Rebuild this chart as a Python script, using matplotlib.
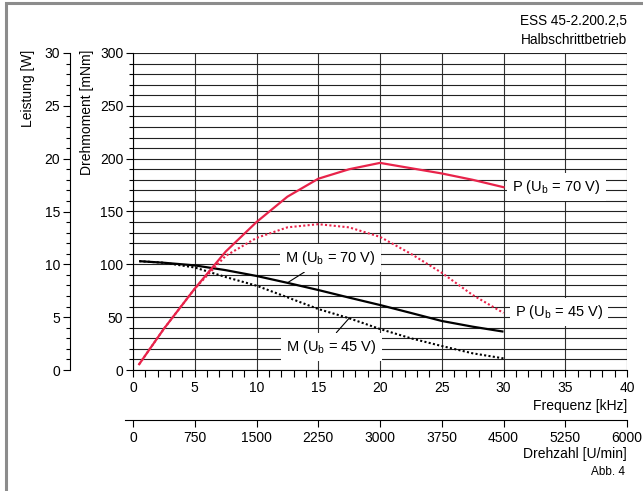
import matplotlib
matplotlib.use('Agg')
import matplotlib.pyplot as plt
from matplotlib.ticker import MultipleLocator
from matplotlib.patches import Rectangle

plt.rcParams['font.family'] = ['Liberation Sans', 'DejaVu Sans']
plt.rcParams['mathtext.fontset'] = 'custom'
plt.rcParams['mathtext.rm'] = 'Liberation Sans'
plt.rcParams['font.size'] = 10

# Frequenz [kHz]
freq = [0.5, 2.5, 5, 7.5, 10, 12.5, 15, 17.5, 20, 22.5, 25, 27.5, 30]
# Leistung [W]
p_70 = [0.55, 3.9, 7.7, 11.2, 14.0, 16.4, 18.1, 19.0, 19.6, 19.1, 18.6, 18.0, 17.3]
p_45 = [0.55, 3.9, 7.7, 10.8, 12.5, 13.5, 13.8, 13.5, 12.6, 11.0, 9.2, 7.1, 5.4]
# Drehmoment [mNm]
m_70 = [103, 101.5, 99, 94.5, 89, 82.5, 75.7, 68.5, 61.5, 54, 46.4, 41, 36.3]
m_45 = [103, 101.5, 97, 88, 79.8, 68.8, 57.7, 49, 38.8, 30, 22.7, 15.8, 11]

freq_ticks = list(range(0, 41, 5))
drehzahl_ticks = list(range(0, 6001, 750))

red = '#e8234a'
W, H = 643, 491

fig = plt.figure(figsize=(W / 100, H / 100), dpi=100)
ax = fig.add_axes([133 / W, 121 / H, 494 / W, 317 / H])

# Drehmoment axis + grid
ax.set_xlim(0, 40)
ax.set_ylim(0, 300)
ax.set_xticks(freq_ticks)
ax.xaxis.set_minor_locator(MultipleLocator(1))
ax.yaxis.set_major_locator(MultipleLocator(50))
ax.yaxis.set_minor_locator(MultipleLocator(10))
ax.grid(which='major', axis='x', color='#333333', lw=0.8)
ax.grid(which='both', axis='y', color='#222222', lw=0.8)
ax.set_axisbelow(True)
for s in ['top', 'right']:
    ax.spines[s].set_visible(False)
for s in ['left', 'bottom']:
    ax.spines[s].set_linewidth(0.8)
ax.tick_params(axis='x', which='major', length=5, width=0.8, pad=3)
ax.tick_params(axis='x', which='minor', length=5, width=0.8)
ax.tick_params(axis='y', which='major', length=5, width=0.8, pad=2)
ax.tick_params(axis='y', which='minor', length=3, width=0.8)

ax.plot(freq, m_70, color='black', lw=1.6, solid_capstyle='butt')
ax.plot(freq, m_45, color='black', lw=1.5, linestyle=(0, (1, 1.1)))

# Leistung axis
ax2 = ax.twinx()
ax2.yaxis.set_ticks_position('left')
ax2.yaxis.set_label_position('left')
ax2.spines['left'].set_position(('outward', 63 * 0.72))
for s in ['top', 'right', 'bottom']:
    ax2.spines[s].set_visible(False)
ax2.spines['left'].set_linewidth(0.8)
ax2.set_ylim(0, 30)
ax2.yaxis.set_major_locator(MultipleLocator(5))
ax2.yaxis.set_minor_locator(MultipleLocator(1))
ax2.tick_params(axis='y', which='major', length=5, width=0.8, pad=2)
ax2.tick_params(axis='y', which='minor', length=3, width=0.8)

ax2.plot(freq, p_70, color=red, lw=1.6)
ax2.plot(freq, p_45, color=red, lw=1.5, linestyle=(0, (1, 1.1)))

# Drehzahl axis
ax3 = ax.twiny()
ax3.xaxis.set_ticks_position('bottom')
ax3.xaxis.set_label_position('bottom')
ax3.spines['bottom'].set_position(('outward', 50 * 0.72))
for s in ['top', 'right', 'left']:
    ax3.spines[s].set_visible(False)
ax3.spines['bottom'].set_linewidth(0.8)
ax3.set_xlim(0, 6000)
ax3.spines['bottom'].set_bounds(-100, 6000)
ax3.set_xticks(drehzahl_ticks)
ax3.tick_params(axis='x', which='major', length=5, width=0.8, pad=3)

# curve labels
box = dict(boxstyle='square,pad=0.35', fc='white', ec='none')
ax.annotate(r'M (U$_\mathrm{b}$ = 70 V)', xy=(freq[5], m_70[5]), xytext=(16.0, 106),
            ha='center', va='center', fontsize=10.5, bbox=box, zorder=5,
            arrowprops=dict(arrowstyle='-', color='black', lw=0.8,
                            shrinkA=0, shrinkB=0, relpos=(0.3, 0)))
ax.annotate(r'M (U$_\mathrm{b}$ = 45 V)', xy=(freq[7], m_45[7]), xytext=(16.1, 22),
            ha='center', va='center', fontsize=10.5, bbox=box, zorder=5,
            arrowprops=dict(arrowstyle='-', color='black', lw=0.8,
                            shrinkA=0, shrinkB=0, relpos=(0.5, 1)))
ax.text(34.3, 173, r'P (U$_\mathrm{b}$ = 70 V)', ha='center', va='center',
        fontsize=10.5, bbox=box, zorder=5)
ax.text(34.5, 55, r'P (U$_\mathrm{b}$ = 45 V)', ha='center', va='center',
        fontsize=10.5, bbox=box, zorder=5)

# texts
fig.text(28 / W, 1 - 50 / H, 'Leistung [W]', rotation=90, ha='center', va='top')
fig.text(87.5 / W, 1 - 50 / H, 'Drehmoment [mNm]', rotation=90, ha='center', va='top')
fig.text(627 / W, 1 - 406 / H, 'Frequenz [kHz]', ha='right', va='center')
fig.text(627 / W, 1 - 454 / H, 'Drehzahl [U/min]', ha='right', va='center')
fig.text(625 / W, 1 - 472 / H, 'Abb. 4', ha='right', va='center', fontsize=8.5)
fig.text(627 / W, 1 - 21 / H, 'ESS 45-2.200.2,5', ha='right', va='center', fontsize=9.8)
fig.text(627 / W, 1 - 40 / H, 'Halbschrittbetrieb', ha='right', va='center', fontsize=9.8)

# frame
fig.add_artist(Rectangle((5.5 / W, -0.05), 1.0, 1.05 - 2.5 / H, transform=fig.transFigure,
                         fill=False, ec='#8c8c8c', lw=2.2))

fig.savefig('out.png', dpi=100)
